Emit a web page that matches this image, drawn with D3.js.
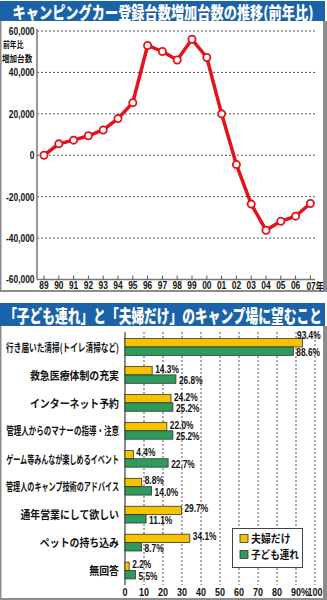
<!DOCTYPE html>
<html>
<head>
<meta charset="utf-8">
<script src="https://cdn.jsdelivr.net/npm/d3@7"></script>
<style>
  html, body { margin: 0; padding: 0; background: #fff; }
  svg { display: block; }
</style>
</head>
<body>
<svg id="chart" width="327" height="600"></svg>
<script>
// ---- Data: year-on-year increase in registered camping cars ----
const years = ["89","90","91","92","93","94","95","96","97","98","99","00","01","02","03","04","05","06","07"];
const increase = [0, 5500, 7300, 9400, 12200, 17700, 25400, 53000, 50100, 46000, 56000, 47200, 20000, -4500, -23600, -36200, -31900, -29400, -23300];
const yTicks = [60000, 40000, 20000, 0, -20000, -40000, -60000];
const yTitle = ["前年比", "増加台数"];

// ---- Data: what families and couples want from a campsite (%) ----
const wishes = [
  "行き届いた清掃(トイレ清掃など)",
  "救急医療体制の充実",
  "インターネット予約",
  "管理人からのマナーの指導・注意",
  "ゲーム等みんなが楽しめるイベント",
  "管理人のキャンプ技術のアドバイス",
  "通年営業にして欲しい",
  "ペットの持ち込み",
  "無回答"
];
const couplesOnly = [93.4, 14.3, 24.2, 22.0, 4.4, 8.8, 29.7, 34.1, 2.2];
const withKids = [88.6, 26.8, 25.2, 25.2, 22.7, 14.0, 11.1, 8.7, 5.5];
const seriesNames = ["夫婦だけ", "子ども連れ"];
const pctTicks = [0, 10, 20, 30, 40, 50, 60, 70, 80, 90, 100];

const JP = "'Noto Sans CJK JP', 'Noto Sans', sans-serif";
const NUM = "'Liberation Sans', Arial, sans-serif";
const BLUE = "#1b63a8";
const FRAME = "#8c8c8c";
const RED = "#e3121b";
const YELLOW = "#f7c300";
const GREEN = "#2e9a5c";

const svg = d3.select("#chart");

// Text squeezed horizontally: anchored at (x,y), scaled by sx (or fitted to maxW)
function squeezed(parent, x, y, str, o) {
  const g = parent.append("g").attr("transform", `translate(${x},${y})`);
  const t = g.append("text")
    .attr("text-anchor", o.anchor || "start")
    .attr("dominant-baseline", "central")
    .attr("font-family", o.family || JP)
    .attr("font-weight", o.weight || 700)
    .attr("font-size", o.size || 11)
    .attr("fill", o.fill || "#111")
    .text(str);
  let sx = o.sx || 1;
  if (o.maxW) {
    const w = t.node().getComputedTextLength();
    sx = Math.min(sx, o.maxW / w);
  }
  t.attr("transform", `scale(${sx},1)`);
  return t;
}

// ---------------- Panel 1 ----------------
svg.append("rect").attr("x", 0).attr("y", 1).attr("width", 325).attr("height", 20).attr("fill", BLUE);
squeezed(svg, 163, 11.5, "キャンピングカー登録台数増加台数の推移(前年比)", {anchor: "middle", size: 16.5, weight: 900, fill: "#fff", sx: 0.8, maxW: 316});

// frame
svg.append("line").attr("x1", 0.75).attr("x2", 0.75).attr("y1", 21).attr("y2", 291).attr("stroke", FRAME).attr("stroke-width", 1.5);
svg.append("rect").attr("x", 323).attr("y", 21).attr("width", 4).attr("height", 271).attr("fill", FRAME);
svg.append("line").attr("x1", 0).attr("x2", 327).attr("y1", 291).attr("y2", 291).attr("stroke", FRAME).attr("stroke-width", 2);

const x1 = d3.scalePoint().domain(years).range([44, 310.4]);
const y1 = d3.scaleLinear().domain([-60000, 60000]).range([279.5, 31]);

const grid1 = svg.append("g");
grid1.selectAll("line.h").data(yTicks.filter(v => v > -60000)).join("line")
  .attr("x1", 37).attr("x2", 315)
  .attr("y1", d => y1(d)).attr("y2", d => y1(d))
  .attr("stroke", "#555").attr("stroke-width", 1).attr("stroke-dasharray", "2,2");

// axes
svg.append("line").attr("x1", 37).attr("x2", 37).attr("y1", 29).attr("y2", y1(-60000)).attr("stroke", "#777").attr("stroke-width", 1.5);
svg.append("line").attr("x1", 37).attr("x2", 315).attr("y1", y1(-60000)).attr("y2", y1(-60000)).attr("stroke", "#777").attr("stroke-width", 1.5);
svg.append("g").selectAll("line").data(years).join("line")
  .attr("x1", d => x1(d)).attr("x2", d => x1(d))
  .attr("y1", y1(-60000) - 4).attr("y2", y1(-60000))
  .attr("stroke", "#555").attr("stroke-width", 1);

const fmt = d3.format(",");
yTicks.forEach(v => {
  squeezed(svg, 34.5, y1(v), fmt(v).replace("−", "-"), {anchor: "end", family: NUM, size: 10.5, sx: 0.8});
});
years.forEach((yr, i) => {
  const last = i === years.length - 1;
  const t = squeezed(svg, x1(yr) - (last ? 4 : 0), 285.5, "", {anchor: last ? "start" : "middle", family: NUM, size: 10.5, sx: 0.8});
  if (last) {
    t.append("tspan").text(yr);
    t.append("tspan").attr("font-family", JP).attr("font-size", 10).text("年");
  } else {
    t.text(yr);
  }
});

// two-line y-axis caption
squeezed(svg, 3, 44, yTitle[0], {size: 9, sx: 0.76});
squeezed(svg, 2, 57.5, yTitle[1], {size: 9, sx: 0.84});

const line = d3.line().x((d, i) => x1(years[i])).y(d => y1(d));
svg.append("path").datum(increase)
  .attr("d", line).attr("fill", "none")
  .attr("stroke", RED).attr("stroke-width", 3.5)
  .attr("stroke-linejoin", "round").attr("stroke-linecap", "round");
svg.append("g").selectAll("circle").data(increase).join("circle")
  .attr("cx", (d, i) => x1(years[i])).attr("cy", d => y1(d))
  .attr("r", 3.6).attr("fill", "#fff").attr("stroke", RED).attr("stroke-width", 1.8);

// ---------------- Panel 2 ----------------
svg.append("rect").attr("x", 0).attr("y", 303).attr("width", 325).attr("height", 23).attr("fill", BLUE);
squeezed(svg, 163, 314.5, "「子ども連れ」と「夫婦だけ」のキャンプ場に望むこと", {anchor: "middle", size: 18, weight: 900, fill: "#fff", sx: 0.8, maxW: 318});

svg.append("line").attr("x1", 0.75).attr("x2", 0.75).attr("y1", 326).attr("y2", 600).attr("stroke", FRAME).attr("stroke-width", 1.5);
svg.append("rect").attr("x", 323).attr("y", 326).attr("width", 4).attr("height", 274).attr("fill", FRAME);
svg.append("line").attr("x1", 0).attr("x2", 327).attr("y1", 599).attr("y2", 599).attr("stroke", FRAME).attr("stroke-width", 2);

const x2 = d3.scaleLinear().domain([0, 100]).range([125, 315]);
const y2 = d3.scaleBand().domain(wishes).range([333, 584.5]).paddingInner(0.4).paddingOuter(0.2);
const sub = d3.scaleBand().domain(seriesNames).range([0, y2.bandwidth()]);

svg.append("g").selectAll("line").data(pctTicks.filter(v => v > 0)).join("line")
  .attr("x1", d => x2(d)).attr("x2", d => x2(d))
  .attr("y1", 332).attr("y2", 585)
  .attr("stroke", "#555").attr("stroke-width", 1).attr("stroke-dasharray", "2,2");
svg.append("line").attr("x1", x2(0)).attr("x2", x2(0)).attr("y1", 332).attr("y2", 585).attr("stroke", "#666").attr("stroke-width", 1.5);

pctTicks.forEach(v => {
  const t = squeezed(svg, x2(v) + (v === 90 ? -5 : 0), 592, "", {anchor: v === 90 ? "start" : "middle", family: NUM, size: 11.5, sx: 0.78});
  t.text(v === 90 ? "90%" : String(v));
});

const seriesVals = [couplesOnly, withKids];
const seriesCols = [YELLOW, GREEN];
const bars = svg.append("g");
seriesNames.forEach((name, s) => {
  bars.selectAll(null).data(wishes).join("rect")
    .attr("x", x2(0))
    .attr("y", d => y2(d) + sub(name))
    .attr("width", (d, i) => x2(seriesVals[s][i]) - x2(0))
    .attr("height", sub.bandwidth())
    .attr("fill", seriesCols[s]).attr("stroke", "#333").attr("stroke-width", 0.8);
});

const pf = d3.format(".1f");
wishes.forEach((w, i) => {
  const yc = y2(w);
  squeezed(svg, 119, yc + y2.bandwidth() / 2, w, {anchor: "end", size: 11, sx: 0.9, maxW: 113});
  seriesNames.forEach((name, s) => {
    const v = seriesVals[s][i];
    let lx = x2(v) + 3;
    let dy = s === 0 ? -2 : 1;
    if (lx > 297) { lx = 297; dy = s === 0 ? -8 : 2; }
    const ly = yc + sub(name) + sub.bandwidth() / 2 + dy;
    squeezed(svg, lx, ly, pf(v) + "%", {family: NUM, size: 11, sx: 0.76});
  });
});

// legend
const lg = svg.append("g").attr("transform", "translate(232,528)");
lg.append("rect").attr("x", 0.5).attr("y", 0.5).attr("width", 70).attr("height", 39)
  .attr("fill", "#fff").attr("stroke", "#444").attr("stroke-width", 1);
seriesNames.forEach((name, s) => {
  lg.append("rect").attr("x", 8).attr("y", 6.5 + s * 16).attr("width", 8).attr("height", 8)
    .attr("fill", seriesCols[s]).attr("stroke", "#333").attr("stroke-width", 0.8);
  squeezed(lg, 19, 10.5 + s * 16, name, {size: 11, sx: 0.9, maxW: 48});
});
</script>
</body>
</html>
